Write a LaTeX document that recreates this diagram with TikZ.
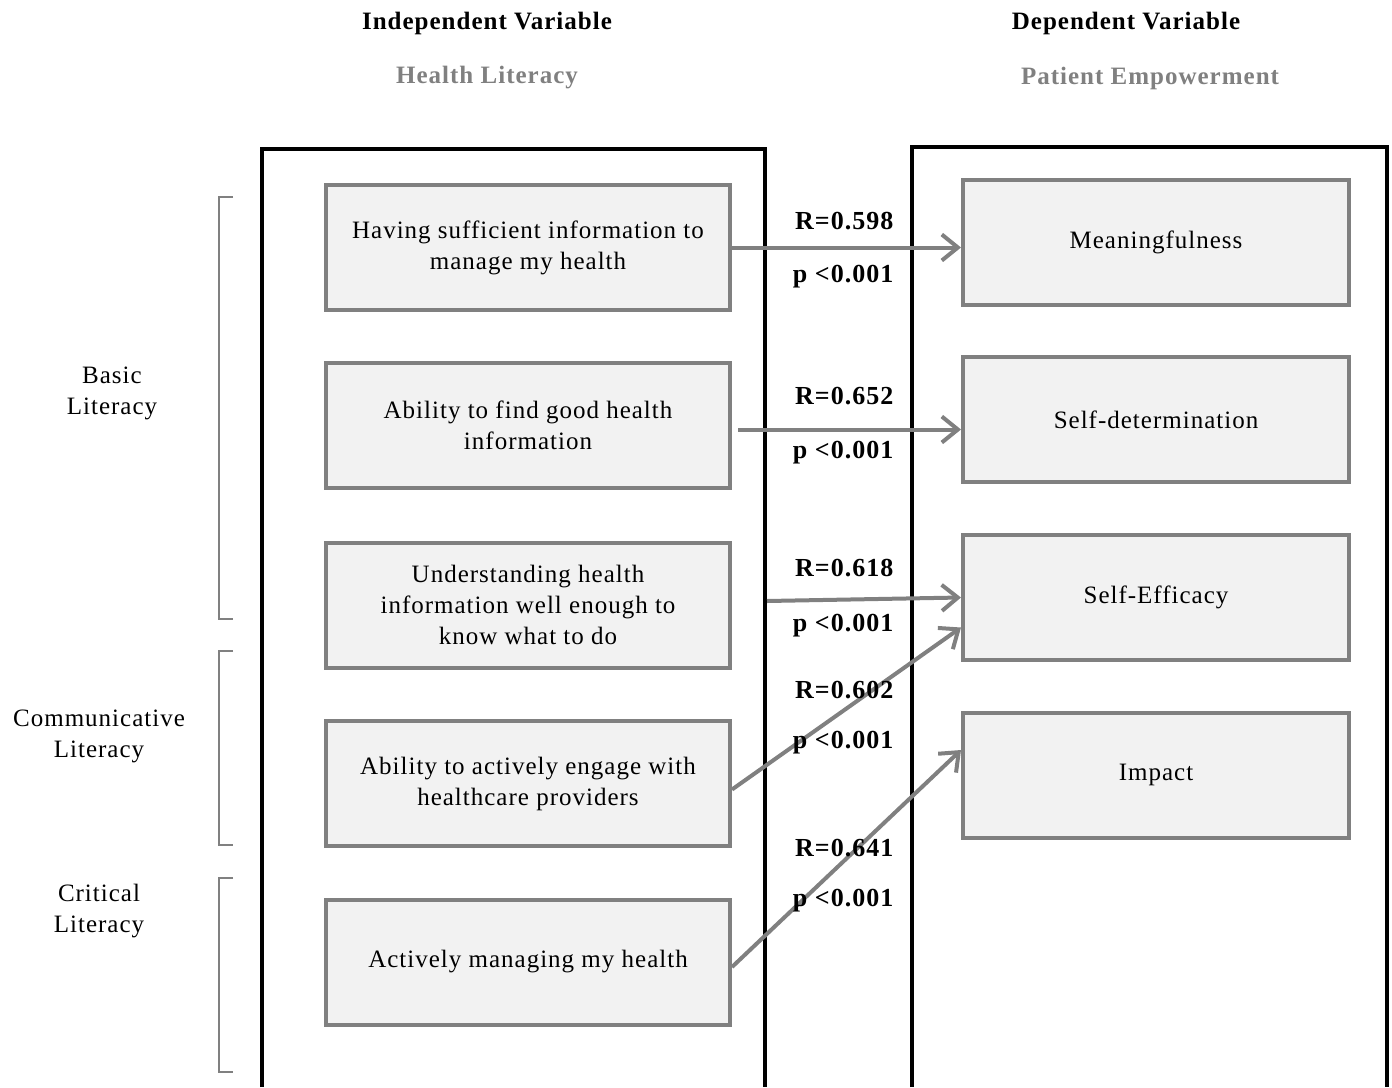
\documentclass[tikz,border=0pt]{standalone}
\usepackage{fontspec}
\setmainfont[LetterSpace=4]{Liberation Serif}
\usetikzlibrary{arrows.meta,positioning}
\definecolor{boxGray}{RGB}{128,128,128}
\definecolor{boxFill}{RGB}{242,242,242}
\definecolor{headGray}{RGB}{128,128,128}

\begin{document}
\begin{tikzpicture}[x=1pt,y=-1pt,
    item/.style={draw=boxGray,fill=boxFill,line width=4pt,minimum height=125pt,
                 align=center,inner sep=0pt,font=\fontsize{25}{31}\selectfont},
    hl/.style={item,minimum width=404pt},
    pe/.style={item,minimum width=386pt},
    frame/.style={line width=4pt,draw=black},
    link/.style={draw=boxGray,line width=4pt,
                 -{Straight Barb[length=16pt,width=26pt]}},
    stat/.style={anchor=east,font=\bfseries\fontsize{26}{28}\selectfont},
    head/.style={font=\bfseries\fontsize{25}{28}\selectfont},
    sub/.style={head,text=headGray},
    grp/.style={align=center,font=\fontsize{25}{31}\selectfont},
    brace/.style={draw=boxGray,line width=1.5pt}]

    \useasboundingbox (0,0) rectangle (1392,1087);

    % Headers
    \node[head] (ivhead) at (487,23) {Independent Variable};
    \node[sub] (ivsub) at (487,78) {Health Literacy};
    \node[head] (dvhead) at (1126,23) {Dependent Variable};
    \node[sub] (dvsub) at (1150,78) {Patient Empowerment};

    % Frames (open at the bottom)
    \draw[frame] (262,1087) -- (262,149) -- (765,149) -- (765,1087);
    \draw[frame] (912,1087) -- (912,147) -- (1387,147) -- (1387,1087);

    % Health literacy items
    \foreach \n/\y/\t in {1/247.5/{Having sufficient information to\\manage my health},
                          2/425.5/{Ability to find good health\\information},
                          3/605/{Understanding health\\information well enough to\\know what to do},
                          4/783.5/{Ability to actively engage with\\healthcare providers},
                          5/962/{Actively managing my health}} {
      \node[hl] (hl\n) at (528,\y) {\t};
    }

    % Empowerment items
    \foreach \n/\y/\t in {1/242.5/Meaningfulness,2/419.5/Self-determination,
                          3/597.5/Self-Efficacy,4/775/Impact} {
      \node[pe] (pe\n) at (1156,\y) {\t};
    }

    % Links
    \draw[link] (hl1.east) -- (hl1.east -| pe1.west);
    \draw[link] ([xshift=6pt,yshift=-4pt]hl2.east) -- ([yshift=-4pt]hl2.east -| pe2.west);
    \draw[link] ([xshift=35pt,yshift=4pt]hl3.east) -- (pe3.west);
    \draw[link] ([yshift=-6pt]hl4.east) -- ([yshift=-30pt]pe3.west);
    \draw[link] ([yshift=-5pt]hl5.east) -- ([yshift=25pt]pe4.west);

    % Statistics
    \foreach \n/\r/\yr/\yp in {1/0.598/221/277,2/0.652/396/453,3/0.618/568/626,
                               4/0.602/690/743,5/0.641/848/901} {
      \node[stat] (r\n) at (897,\yr) {R=\r};
      \node[stat] (p\n) at (897,\yp) {p <0.001};
    }

    % Literacy groups
    \draw[brace] (233,197) -| (219,619) -- (233,619);
    \draw[brace] (233,651) -| (219,845) -- (233,845);
    \draw[brace] (233,878) -| (219,1072) -- (233,1072);
    \node[grp] (basic) at (112,393) {Basic\\Literacy};
    \node[grp] (comm) at (99,736) {Communicative\\Literacy};
    \node[grp] (crit) at (99,911) {Critical\\Literacy};
  \end{tikzpicture}
\end{document}
